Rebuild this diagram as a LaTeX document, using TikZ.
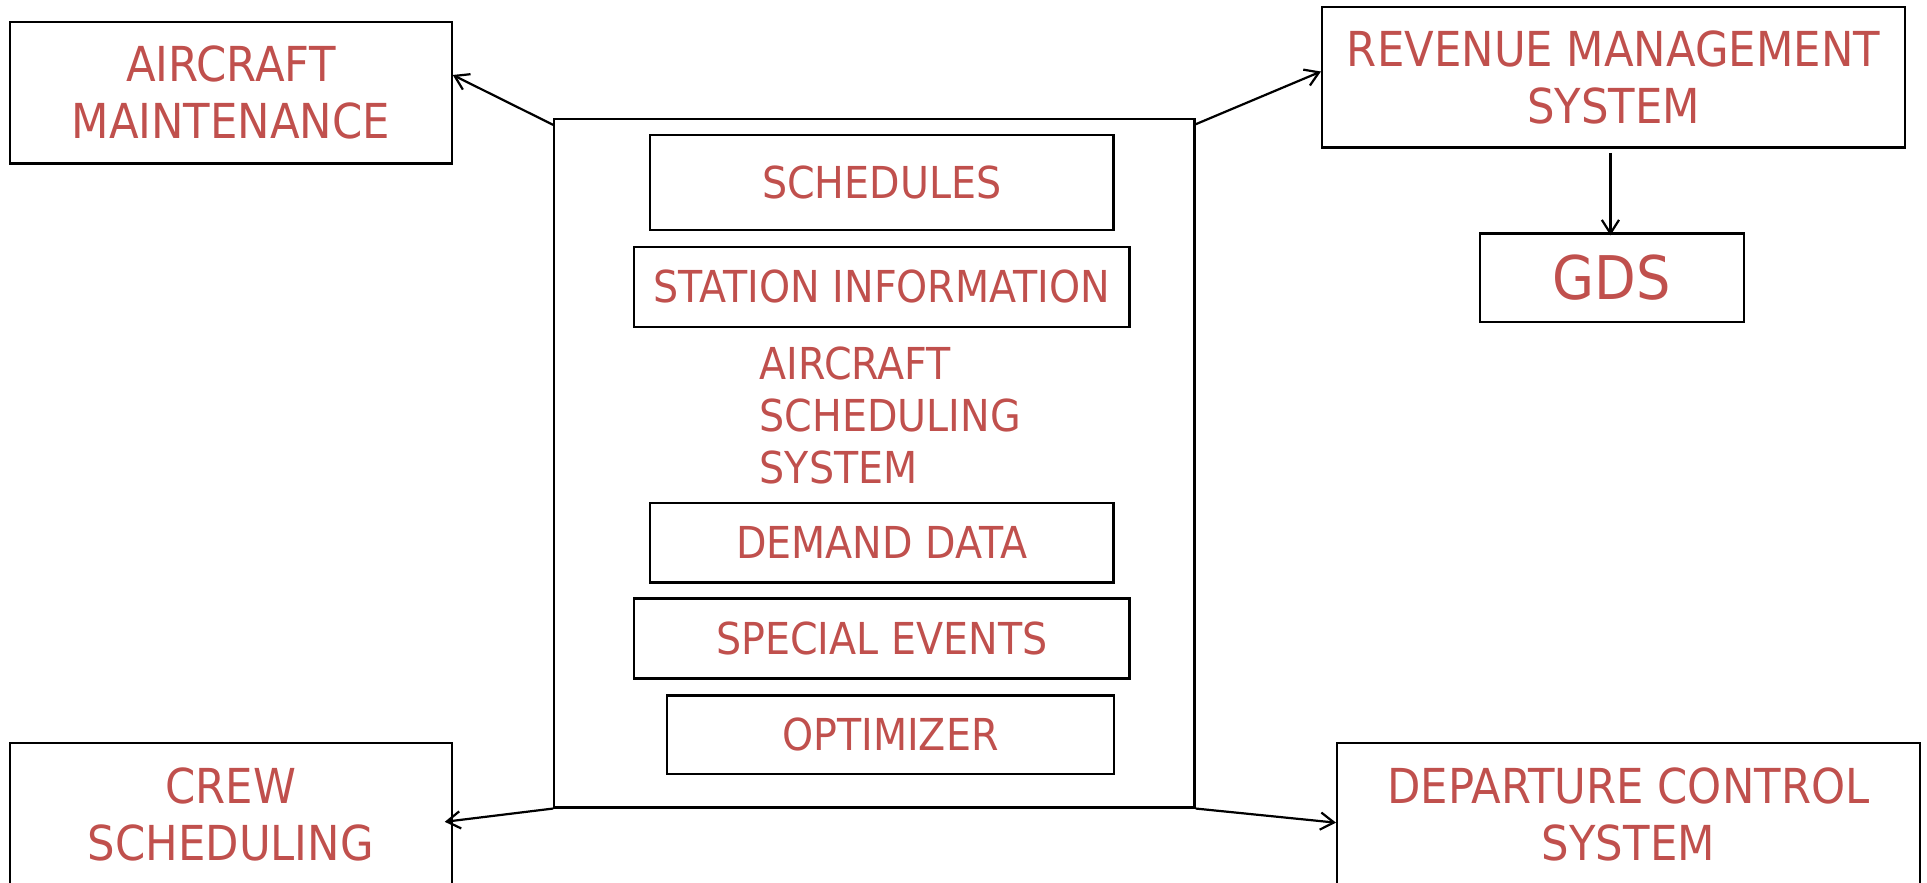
\documentclass[tikz,border=0pt]{standalone}
\usepackage{fontspec}
\setmainfont{DejaVu Sans}[FakeStretch=0.9]
\usetikzlibrary{arrows.meta,calc}
\definecolor{labelred}{HTML}{C0504D}

\begin{document}
\begin{tikzpicture}[x=1pt,y=-1pt,
  box/.style={draw=black, line width=1.8pt, inner sep=0pt, text=labelred, align=center},
  outerbox/.style={box, font=\fontsize{39.2}{46.5}\selectfont},
  innerbox/.style={box, font=\fontsize{35.8}{42.5}\selectfont},
  link/.style={line width=1.8pt, -{Straight Barb[length=11pt,width=14pt]}}]

  % page frame
  \clip (0,0) rectangle (1568,718);

  % central system and its components
  \node[box, minimum width=521pt, minimum height=560pt] (ass) at (711.5,377) {};
  \node[innerbox, minimum width=377pt, minimum height=77pt] (sched) at (717.5,148.5) {SCHEDULES};
  \node[innerbox, minimum width=403pt, minimum height=65pt] (station) at (717.5,233.5) {STATION INFORMATION};
  \node[draw=none, inner sep=0pt, text=labelred, align=left, anchor=north west,
        font=\fontsize{35.8}{42.3}\selectfont] (asslabel) at (618,281.9)
        {AIRCRAFT\\SCHEDULING\\SYSTEM};
  \node[innerbox, minimum width=377pt, minimum height=65pt] (demand) at (717.5,441.5) {DEMAND DATA};
  \node[innerbox, minimum width=403pt, minimum height=65pt] (events) at (717.5,519.5) {SPECIAL EVENTS};
  \node[innerbox, minimum width=364pt, minimum height=64pt] (optim) at (724.5,598) {OPTIMIZER};

  % surrounding systems
  \node[outerbox, minimum width=359.4pt, minimum height=115pt] (maint) at (187.8,75.5) {AIRCRAFT\\MAINTENANCE};
  \node[outerbox, minimum width=474.3pt, minimum height=114.6pt] (rms) at (1312.9,62.7) {REVENUE MANAGEMENT\\SYSTEM};
  \node[box, font=\fontsize{49}{58}\selectfont, minimum width=215pt, minimum height=72pt] (gds) at (1311.5,226) {GDS};
  \node[outerbox, minimum width=359.4pt, minimum height=116.5pt] (crew) at (187.8,662.7) {CREW\\SCHEDULING};
  \node[outerbox, minimum width=474pt, minimum height=116.5pt] (dcs) at (1325,662.7) {DEPARTURE CONTROL\\SYSTEM};

  % data flows
  \draw[link] ($(ass.north west)+(0,5.5)$) -- ($(maint.east)+(0,-14.5)$);
  \draw[link] ($(ass.north east)+(0,5)$) -- ($(rms.west)+(0,-4.5)$);
  \draw[link] (ass.south west) -- ($(crew.east)+(-6.5,6)$);
  \draw[link] (ass.south east) -- ($(dcs.west)+(0,6.7)$);
  \draw[link] ($(rms.south)+(-2.5,3.5)$) -- ($(gds.north)+(-1.1,2.5)$);
\end{tikzpicture}
\end{document}
